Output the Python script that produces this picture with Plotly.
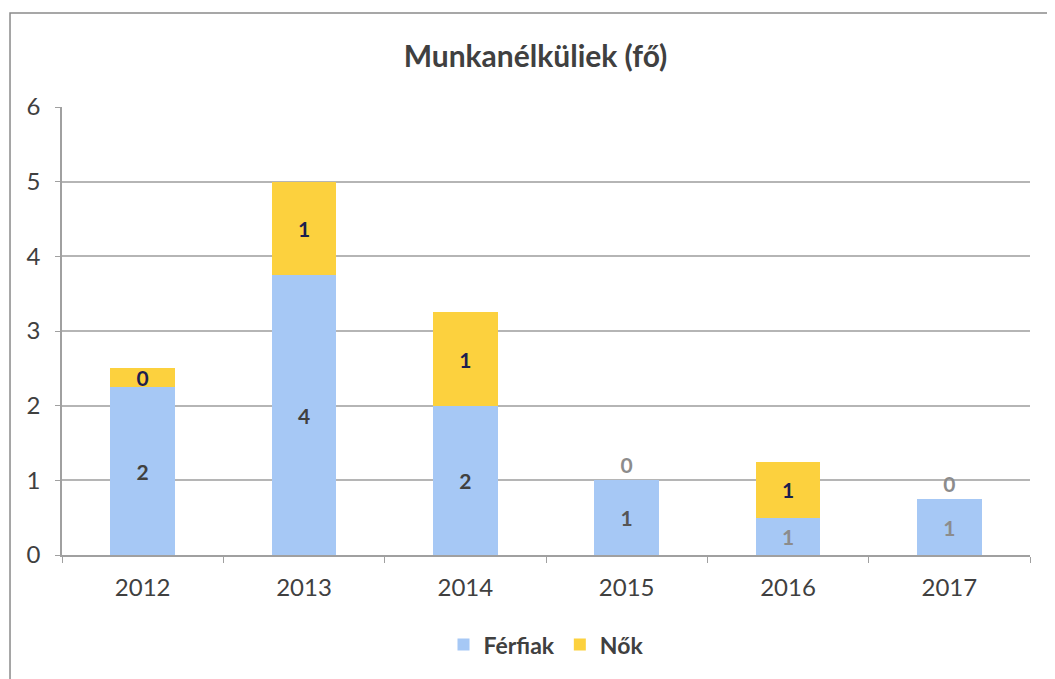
import plotly.graph_objects as go

years = ["2012", "2013", "2014", "2015", "2016", "2017"]
ferfiak = [2.25, 3.75, 2.0, 1.0, 0.5, 0.75]
nok = [0.25, 1.25, 1.25, 0.0, 0.75, 0.0]
ferfiak_labels = ["2", "4", "2", "1", "1", "1"]
nok_labels = ["0", "1", "1", "0", "1", "0"]
y_ticks = [0, 1, 2, 3, 4, 5, 6]

font_family = "Lato, Open Sans, sans-serif"
dark = "#404040"

fig = go.Figure()
fig.add_trace(go.Bar(
    x=years, y=ferfiak, name="<b>Férfiak</b>", text=ferfiak_labels,
    textposition="inside", insidetextanchor="middle", textangle=0,
    constraintext="none",
    texttemplate="<b>%{text}</b>",
    textfont=dict(size=21, color=[dark, dark, dark, "#555555", "#8c8c8c", "#8c8c8c"],
                  family=font_family),
    marker=dict(color="#a6c8f5", line=dict(width=0)),
))
fig.add_trace(go.Bar(
    x=years, y=nok, name="<b>Nők</b>", text=nok_labels,
    textposition=["inside" if v > 0 else "outside" for v in nok],
    insidetextanchor="middle", textangle=0,
    constraintext="none",
    texttemplate="<b>%{text}</b>",
    textfont=dict(size=21, color="#1c1f4f", family=font_family),
    outsidetextfont=dict(size=21, color="#8c8c8c", family=font_family),
    marker=dict(color="#fcd13e", line=dict(width=0)),
    cliponaxis=False,
))

fig.update_layout(
    width=1055, height=679,
    barmode="stack", bargap=0.6,
    paper_bgcolor="white", plot_bgcolor="white",
    margin=dict(l=54, r=33, t=99, b=132),
    font=dict(family=font_family, size=21, color=dark),
    title=dict(text="<b>Munkanélküliek (fő)</b>", x=0.5, xanchor="center",
               y=0.928, yanchor="middle",
               font=dict(size=30, color=dark, family=font_family)),
    legend=dict(orientation="h", x=0.5, xanchor="center", y=-0.2, yanchor="middle",
                font=dict(size=23, color=dark, family=font_family),
                itemwidth=30, traceorder="normal"),
    showlegend=True,
    shapes=[dict(type="rect", xref="paper", yref="paper", x0=-0.0537, x1=1.0227,
                 y0=-0.32, y1=1.21, line=dict(color="#8a8a8a", width=1.5))],
)
fig.update_yaxes(range=[0, 6], tickvals=y_ticks, showgrid=True, gridcolor="#b5b5b5",
                 gridwidth=1.5, showline=True, linecolor="#a0a0a0", linewidth=1.5,
                 ticks="outside", ticklen=5, tickcolor="#a0a0a0", ticklabelstandoff=10,
                 tickfont=dict(size=24, color=dark), zeroline=False)
fig.update_xaxes(showline=True, linecolor="#a0a0a0", linewidth=1.5,
                 ticks="outside", ticklen=6, tickcolor="#a0a0a0", ticklabelstandoff=10,
                 tickson="boundaries", tickfont=dict(size=24, color=dark))

fig.write_html("out.html")
